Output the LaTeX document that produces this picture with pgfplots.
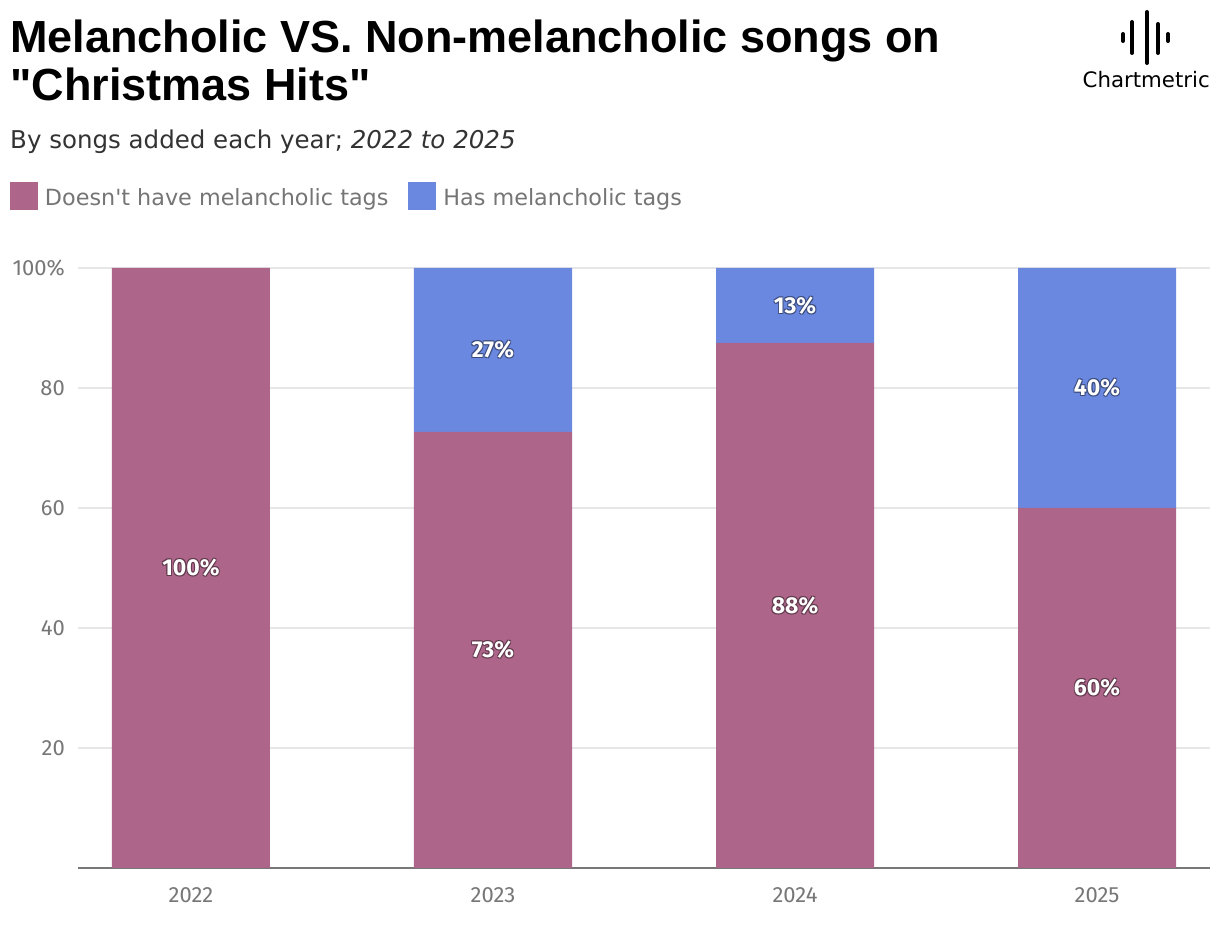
\documentclass[border=0pt]{standalone}
\usepackage{pgfplots}
\pgfplotsset{compat=1.18}
\usepackage{pgfplotstable}
\usepackage{fontspec}
\setmainfont{DejaVu Sans}
\newfontfamily\titlefont{Liberation Sans}
\newfontfamily\tickfont{Fira Sans}
\newfontfamily\subfont{DejaVu Sans}

\definecolor{pinkbar}{HTML}{AD6589}
\definecolor{bluebar}{HTML}{6A88E0}
\definecolor{ticktext}{HTML}{777777}
\definecolor{legtext}{HTML}{757575}
\definecolor{gridc}{HTML}{E6E6E6}
\definecolor{axisc}{HTML}{777777}
\definecolor{subc}{HTML}{333333}

% white label with a soft dark halo
\newcommand\glow[2]{%
  \leavevmode
  \rlap{\color{#1}\hspace{0.8pt}\raisebox{-1.2pt}{#2}}%
  \rlap{\color{#1}\hspace{-0.8pt}\raisebox{-1.2pt}{#2}}%
  \rlap{\color{#1}\hspace{0.8pt}\raisebox{0.6pt}{#2}}%
  \rlap{\color{#1}\hspace{-0.8pt}\raisebox{0.6pt}{#2}}%
  {\color{white}#2}}

\pgfplotstableread{
x y lab
0 100 {100\%}
1 72.7 {73\%}
2 87.5 {88\%}
3 60 {60\%}
}\nomel
\pgfplotstableread{
x y lab
0 0 {}
1 27.3 {27\%}
2 12.5 {13\%}
3 40 {40\%}
}\mel

\begin{document}
\begin{tikzpicture}
\fill[white] (0,0) rectangle (1220pt,928pt);

\begin{axis}[
  at={(78pt,60pt)}, anchor=south west,
  scale only axis, width=1132pt, height=600pt,
  ybar stacked, bar width=158pt,
  xmin=-0.374, xmax=3.374, ymin=0, ymax=100,
  xtick={0,1,2,3}, xticklabels={2022,2023,2024,2025},
  ytick={20,40,60,80,100}, yticklabels={20,40,60,80,100\%},
  ymajorgrids, grid style={gridc, line width=1.5pt},
  axis x line*=bottom, axis y line*=left,
  x axis line style={axisc, line width=2pt, -},
  y axis line style={draw=none},
  major tick length=0pt,
  tick label style={font=\tickfont\fontsize{22}{22}\selectfont, text=ticktext},
  yticklabel style={inner sep=0pt, xshift=-13pt},
  xticklabel style={inner sep=0pt, yshift=-19pt},
  point meta=explicit symbolic,
  nodes near coords align={center},
  legend image code/.code={\fill (0pt,-12pt) rectangle (28pt,16pt);},
  legend style={at={(axis description cs:-0.06007,1.1433)}, anchor=north west,
    draw=none, fill=none, inner sep=0pt, outer sep=0pt,
    legend columns=2,
    font=\subfont\fontsize{22.3}{26}\selectfont, text=legtext,
    nodes={inner sep=0pt},
    /tikz/column sep=7pt,
    /tikz/every even column/.append style={column sep=20pt}},
  legend cell align=left,
]
\addplot[fill=pinkbar, draw=none,
  nodes near coords={\glow{pinkbar!55!black}{\pgfplotspointmeta}},
  every node near coord/.append style={font=\tickfont\bfseries\fontsize{23}{23}\selectfont}]
  table[x=x, y=y, meta=lab]{\nomel};
\addlegendentry{Doesn't have melancholic tags}
\addplot[fill=bluebar, draw=none,
  nodes near coords={\glow{bluebar!55!black}{\pgfplotspointmeta}},
  every node near coord/.append style={font=\tickfont\bfseries\fontsize{23}{23}\selectfont}]
  table[x=x, y=y, meta=lab]{\mel};
\addlegendentry{Has melancholic tags}
\end{axis}

\node[anchor=base west, inner sep=0pt, font=\titlefont\bfseries\fontsize{45}{48}\selectfont]
  at (10pt,875pt) {Melancholic VS. Non-melancholic songs on};
\node[anchor=base west, inner sep=0pt, font=\titlefont\bfseries\fontsize{45}{48}\selectfont]
  at (10pt,827pt) {"Christmas Hits"};
\node[anchor=base west, inner sep=0pt, font=\subfont\fontsize{24.5}{28}\selectfont, text=subc]
  at (10pt,779pt) {By songs added each year; \textit{2022 to 2025}};

% logo
\begin{scope}[line width=4pt, line cap=round]
\draw (1123pt,894pt) -- (1123pt,887pt);
\draw (1132pt,906pt) -- (1132pt,875pt);
\draw (1147pt,916pt) -- (1147pt,865pt);
\draw (1158pt,904pt) -- (1158pt,875pt);
\draw (1168pt,894pt) -- (1168pt,887pt);
\end{scope}
\node[anchor=base east, inner sep=0pt, font=\subfont\fontsize{21.3}{24}\selectfont]
  at (1210pt,840pt) {Chartmetric};

\pgfresetboundingbox
\path[use as bounding box] (0,0) rectangle (1220pt,928pt);
\end{tikzpicture}
\end{document}
